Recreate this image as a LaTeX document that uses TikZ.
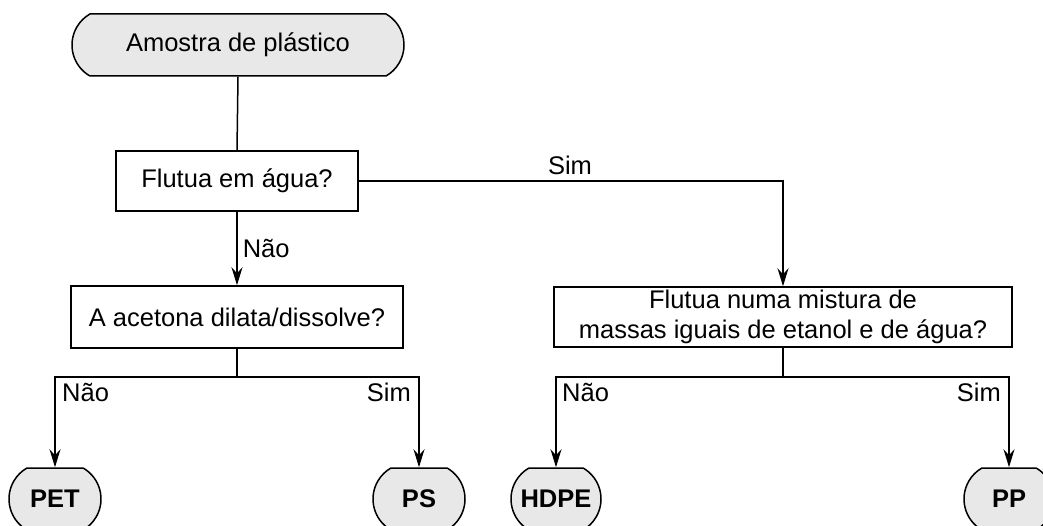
\documentclass[tikz,border=0pt]{standalone}
\usepackage{fontspec}
\setmainfont{Liberation Sans}
\usetikzlibrary{shapes.misc,arrows.meta}
\definecolor{termfill}{RGB}{232,232,232}
\begin{document}
\begin{tikzpicture}[x=1pt,y=-1pt,
  every node/.style={font=\fontsize{25.5}{30}\selectfont},
  term/.style={rounded rectangle, rounded rectangle arc length=120, draw, line width=1.5pt, fill=termfill, minimum height=62pt, inner sep=0pt},
  qbox/.style={rectangle, draw, line width=1.5pt, fill=white, inner sep=0pt, align=center},
  conn/.style={line width=1.5pt},
  arr/.style={conn, -{Stealth[length=18pt,width=11pt,inset=6pt]}},
  lbl/.style={inner sep=0pt}
]
\clip (0,0) rectangle (1043,526);
\useasboundingbox (0,0) rectangle (1043,526);

\node[term, minimum width=332pt] (start) at (238,45) {Amostra de plástico};
\node[qbox, minimum width=242pt, minimum height=60pt] (q1) at (237,181) {Flutua em água?};
\node[qbox, minimum width=332pt, minimum height=62pt] (q2) at (237,317) {A acetona dilata/dissolve?};
\node[qbox, minimum width=458pt, minimum height=60pt] (q3) at (783,317) {Flutua numa mistura de\\massas iguais de etanol e de água?};

\node[term, minimum width=92pt, font=\fontsize{25.5}{30}\selectfont\bfseries] (pet) at (55,499) {PET};
\node[term, minimum width=92pt, font=\fontsize{25.5}{30}\selectfont\bfseries] (ps) at (419,499) {PS};
\node[term, minimum width=90pt, font=\fontsize{25.5}{30}\selectfont\bfseries] (hdpe) at (556,499) {HDPE};
\node[term, minimum width=90pt, font=\fontsize{25.5}{30}\selectfont\bfseries] (pp) at (1009,499) {PP};

\coordinate (b1) at (237,377);
\coordinate (b2) at (783,377);

\draw[conn] (start.south) -- (q1.north);
\draw[arr] (q1.south) -- node[lbl, anchor=west, xshift=5pt] {Não} (q2.north);
\draw[arr] (q1.east) -| (q3.north);
\node[lbl, anchor=south] (simtop) at (570,175) {Sim};

\draw[conn] (q2.south) -- (b1);
\draw[arr] (b1) -| (pet.north);
\draw[arr] (b1) -| (ps.north);
\node[lbl, anchor=north west] (nao1) at (62,383) {Não};
\node[lbl, anchor=north east] (sim1) at (411,383) {Sim};

\draw[conn] (q3.south) -- (b2);
\draw[arr] (b2) -| (hdpe.north);
\draw[arr] (b2) -| (pp.north);
\node[lbl, anchor=north west] (nao2) at (562,383) {Não};
\node[lbl, anchor=north east] (sim2) at (1001,383) {Sim};
\end{tikzpicture}
\end{document}
